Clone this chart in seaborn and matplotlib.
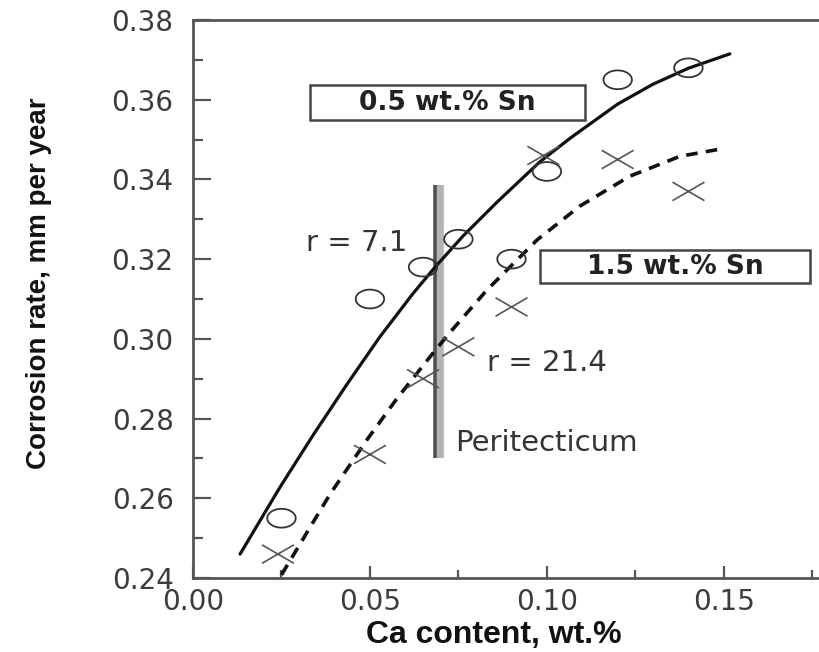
import numpy as np
import pandas as pd
import matplotlib
matplotlib.use("Agg")
import matplotlib.pyplot as plt
from matplotlib.path import Path
from matplotlib.patches import Rectangle
from matplotlib.ticker import MultipleLocator, FormatStrFormatter
from matplotlib import font_manager as fm
import seaborn as sns

# ---------------- data ----------------
ca_sn05 = [0.025, 0.050, 0.065, 0.075, 0.090, 0.100, 0.120, 0.140]
rate_sn05 = [0.255, 0.310, 0.318, 0.325, 0.320, 0.342, 0.365, 0.368]

ca_sn15 = [0.024, 0.050, 0.065, 0.075, 0.090, 0.099, 0.120, 0.140]
rate_sn15 = [0.246, 0.271, 0.290, 0.298, 0.308, 0.346, 0.345, 0.337]

# fitted curves, points
fit05_x = [0.0133, 0.0246, 0.0339, 0.0435, 0.0528, 0.0621, 0.0684, 0.0763,
           0.0859, 0.0980, 0.1065, 0.1200, 0.1300, 0.1400, 0.1517]
fit05_y = [0.2460, 0.2628, 0.2758, 0.2886, 0.3005, 0.3113, 0.3180, 0.3258,
           0.3343, 0.3444, 0.3503, 0.3589, 0.3639, 0.3679, 0.3715]

fit15_x = [0.0250, 0.0387, 0.0491, 0.0576, 0.0678, 0.0726, 0.0830, 0.0972,
           0.1093, 0.1234, 0.1376, 0.1489]
fit15_y = [0.2408, 0.2610, 0.2746, 0.2850, 0.2964, 0.3016, 0.3122, 0.3248,
           0.3333, 0.3408, 0.3458, 0.3476]

peritectic_x = 0.0692
peritectic_y = [0.2700, 0.3386]

x_ticks = [0.00, 0.05, 0.10, 0.15]
y_ticks = [0.24, 0.26, 0.28, 0.30, 0.32, 0.34, 0.36, 0.38]

series_labels = ["0.5 wt.% Sn", "1.5 wt.% Sn"]
r_labels = ["r = 7.1", "r = 21.4"]
peritectic_label = "Peritecticum"
x_label = "Ca content, wt.%"
y_label = "Corrosion rate, mm per year"

# ---------------- style ----------------
sns.set_theme(style="white")
plt.rcParams["font.family"] = ["DejaVu Sans"]


def has_font(name):
    try:
        fm.findfont(fm.FontProperties(family=name), fallback_to_default=False)
        return True
    except Exception:
        return False


fig = plt.figure(figsize=(8.2, 6.52), dpi=100)
ax = fig.add_axes([193 / 820, 74 / 652, 637 / 820, 558 / 652])
ax.set_xlim(0.0, 0.18)
ax.set_ylim(0.24, 0.38)

# custom marker shapes (wide ellipse and wide cross)
t = np.linspace(0, 2 * np.pi, 73)
ellipse = Path(np.column_stack([np.cos(t), 0.66 * np.sin(t)]))
cross = Path([(-1, -0.58), (1, 0.58), (-1, 0.58), (1, -0.58)],
             [Path.MOVETO, Path.LINETO, Path.MOVETO, Path.LINETO])

# peritectic bar
ax.plot([peritectic_x + 0.0006] * 2, peritectic_y, color="#b4b4b4", lw=5.5,
        solid_capstyle="butt", zorder=2)
ax.plot([peritectic_x - 0.0008] * 2, peritectic_y, color="#505050", lw=2.6,
        solid_capstyle="butt", zorder=2)

# curves
sns.lineplot(x=fit05_x, y=fit05_y, ax=ax, color="#111111", lw=2.3,
             estimator=None, sort=False, zorder=3)
sns.lineplot(x=fit15_x, y=fit15_y, ax=ax, color="#111111", lw=2.6,
             estimator=None, sort=False, linestyle=(0, (3.2, 2.3)), zorder=3)

# markers
sns.scatterplot(x=ca_sn05, y=rate_sn05, ax=ax, marker=ellipse, s=420,
                color="#333333", facecolor="none", edgecolor="#333333",
                linewidth=1.3, zorder=4)
sns.scatterplot(x=ca_sn15, y=rate_sn15, ax=ax, marker=cross, s=530,
                color="#555555", facecolor="none", edgecolor="#555555",
                linewidth=1.2, zorder=4)

# labelled boxes
box_specs = [((0.0331, 0.3549), 0.0776, 0.0088),
             ((0.0980, 0.3140), 0.0763, 0.0083)]
for (x0, y0), w, h in box_specs:
    ax.add_patch(Rectangle((x0, y0), w, h, facecolor="white",
                           edgecolor="#444444", lw=1.8, zorder=5))
for ((x0, y0), w, h), lab in zip(box_specs, series_labels):
    ax.text(x0 + w / 2, y0 + h / 2, lab, ha="center", va="center",
            fontsize=19, fontweight="bold", color="#222222", zorder=6)

ax.text(0.0605, 0.3240, r_labels[0], ha="right", va="center",
        fontsize=21, color="#333333")
ax.text(0.0830, 0.2939, r_labels[1], ha="left", va="center",
        fontsize=21, color="#333333")
ax.text(0.0740, 0.2739, peritectic_label, ha="left", va="center",
        fontsize=21, color="#333333")

# axes
ax.xaxis.set_major_locator(plt.FixedLocator(x_ticks))
ax.yaxis.set_major_locator(plt.FixedLocator(y_ticks))
ax.xaxis.set_minor_locator(MultipleLocator(0.025))
ax.yaxis.set_minor_locator(MultipleLocator(0.01))
ax.xaxis.set_major_formatter(FormatStrFormatter("%.2f"))
ax.yaxis.set_major_formatter(FormatStrFormatter("%.2f"))

for side in ["left", "bottom", "top"]:
    ax.spines[side].set_color("#555555")
    ax.spines[side].set_linewidth(2.0)
ax.spines["right"].set_visible(False)

ax.tick_params(axis="both", which="both", direction="in", color="#555555",
               width=1.6, top=False, right=False, left=True, bottom=True)
ax.tick_params(axis="y", which="major", length=13, pad=14, labelsize=20,
               labelcolor="#3c3c3c")
ax.tick_params(axis="y", which="minor", length=7.5)
ax.tick_params(axis="x", which="major", length=9, pad=7, labelsize=20,
               labelcolor="#3c3c3c")
ax.tick_params(axis="x", which="minor", length=5.5)

ax.set_xlabel(x_label, fontsize=23, fontweight="bold", color="#111111",
              family=["Liberation Sans", "DejaVu Sans"])
ax.xaxis.set_label_coords(0.4725, -0.075)

if has_font("Liberation Sans Narrow"):
    ax.set_ylabel(y_label, fontsize=24.5, fontweight="bold", color="#111111",
                  family=["Liberation Sans Narrow", "DejaVu Sans"])
else:
    ax.set_ylabel(y_label, fontsize=20, fontweight="bold", color="#111111",
                  family=["Liberation Sans", "DejaVu Sans"])
ax.yaxis.set_label_coords(-0.222, 0.529)

fig.savefig("out.png", dpi=100)
